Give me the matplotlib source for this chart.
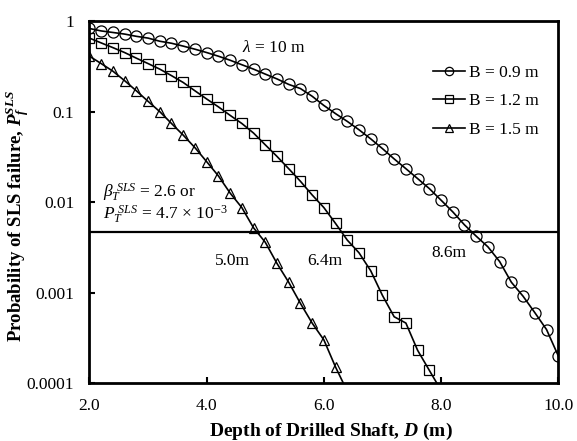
import matplotlib
matplotlib.use("Agg")
import matplotlib.pyplot as plt
from matplotlib.ticker import FixedLocator, FixedFormatter, NullLocator

plt.rcParams['font.family'] = ['Liberation Serif', 'DejaVu Serif']
plt.rcParams['mathtext.fontset'] = 'custom'
plt.rcParams['mathtext.rm'] = 'Liberation Serif'
plt.rcParams['mathtext.it'] = 'Liberation Serif:italic'
plt.rcParams['mathtext.bf'] = 'Liberation Serif:bold'
plt.rcParams['mathtext.bfit'] = 'Liberation Serif:italic:bold'

# ---- data ----
depth_09 = [2.0, 2.2, 2.4, 2.6, 2.8, 3.0, 3.2, 3.4, 3.6, 3.8, 4.0, 4.2, 4.4, 4.6, 4.8,
            5.0, 5.2, 5.4, 5.6, 5.8, 6.0, 6.2, 6.4, 6.6, 6.8, 7.0, 7.2, 7.4, 7.6, 7.8,
            8.0, 8.2, 8.4, 8.6, 8.8, 9.0, 9.2, 9.4, 9.6, 9.8, 10.0]
pf_09 = [0.83, 0.78, 0.75, 0.72, 0.68, 0.65, 0.60, 0.57, 0.53, 0.49, 0.45, 0.41, 0.37,
         0.33, 0.295, 0.26, 0.23, 0.20, 0.18, 0.148, 0.117, 0.095, 0.078, 0.063, 0.050,
         0.039, 0.030, 0.0234, 0.0182, 0.0141, 0.0105, 0.0078, 0.0056, 0.0042, 0.0032,
         0.0022, 0.0013, 0.00091, 0.0006, 0.00039, 0.0002]

depth_12 = [2.0, 2.2, 2.4, 2.6, 2.8, 3.0, 3.2, 3.4, 3.6, 3.8, 4.0, 4.2, 4.4, 4.6, 4.8,
            5.0, 5.2, 5.4, 5.6, 5.8, 6.0, 6.2, 6.4, 6.6, 6.8, 7.0, 7.2, 7.4, 7.6, 7.8, 8.0]
pf_12 = [0.65, 0.575, 0.51, 0.45, 0.39, 0.34, 0.295, 0.25, 0.21, 0.17, 0.138, 0.113,
         0.091, 0.074, 0.058, 0.043, 0.032, 0.0234, 0.017, 0.012, 0.0087, 0.0058, 0.0038,
         0.00275, 0.00174, 0.00093, 0.00054, 0.00046, 0.00023, 0.000138, 0.000083]

depth_15 = [2.0, 2.2, 2.4, 2.6, 2.8, 3.0, 3.2, 3.4, 3.6, 3.8, 4.0, 4.2, 4.4, 4.6, 4.8,
            5.0, 5.2, 5.4, 5.6, 5.8, 6.0, 6.2, 6.4]
pf_15 = [0.41, 0.34, 0.28, 0.22, 0.17, 0.13, 0.10, 0.074, 0.055, 0.040, 0.028, 0.0195,
         0.0126, 0.0087, 0.0052, 0.0036, 0.0021, 0.0013, 0.00076, 0.00046, 0.0003,
         0.00015, 0.000081]

series_labels = ['B = 0.9 m', 'B = 1.2 m', 'B = 1.5 m']
target_pf = 4.7e-3
x_ticks = [2.0, 4.0, 6.0, 8.0, 10.0]
x_tick_labels = ['2.0', '4.0', '6.0', '8.0', '10.0']
y_ticks = [1e-4, 1e-3, 1e-2, 1e-1, 1]
y_tick_labels = ['0.0001', '0.001', '0.01', '0.1', '1']
depth_labels = ['5.0m', '6.4m', '8.6m']

# ---- figure ----
fig = plt.figure(figsize=(5.77, 4.41), dpi=100)
ax = fig.add_axes([0.155, 0.1315, 0.8125, 0.8205])

ax.plot(depth_09, pf_09, color='black', lw=1.2, marker='o', ms=8,
        mfc='none', mec='black', mew=0.9, label=series_labels[0])
ax.plot(depth_12, pf_12, color='black', lw=1.2, marker='s', ms=7,
        mfc='none', mec='black', mew=0.9, label=series_labels[1])
ax.plot(depth_15, pf_15, color='black', lw=1.2, marker='^', ms=7.5,
        mfc='none', mec='black', mew=0.9, label=series_labels[2])

ax.axhline(target_pf, color='black', lw=1.6)

ax.set_yscale('log')
ax.set_xlim(2.0, 10.0)
ax.set_ylim(1e-4, 1)

ax.xaxis.set_major_locator(FixedLocator(x_ticks))
ax.xaxis.set_major_formatter(FixedFormatter(x_tick_labels))
ax.yaxis.set_major_locator(FixedLocator(y_ticks))
ax.yaxis.set_major_formatter(FixedFormatter(y_tick_labels))
ax.xaxis.set_minor_locator(NullLocator())
ax.yaxis.set_minor_locator(NullLocator())
ax.tick_params(direction='in', length=4, width=1.5, labelsize=12.5, colors='black')
ax.tick_params(axis='x', pad=11)
ax.tick_params(axis='y', pad=11)

for s in ax.spines.values():
    s.set_linewidth(2.0)
    s.set_color('black')

ax.set_xlabel(r'Depth of Drilled Shaft, $\mathbfit{D}$ (m)', fontsize=14,
              fontweight='bold')
ax.xaxis.set_label_coords(0.515, -0.105)
ax.set_ylabel(r'Probability of SLS failure, $\mathbfit{P}_{\mathbfit{f}}^{\mathbfit{SLS}}$',
              fontsize=13.5, fontweight='bold')
ax.yaxis.set_label_coords(-0.125, 0.46)

leg = ax.legend(loc='upper left', bbox_to_anchor=(0.733, 0.88), frameon=False,
                fontsize=12.5, handlelength=1.85, handletextpad=0.2, labelspacing=0.72,
                borderaxespad=0.0, borderpad=0.0, markerscale=0.75)

ax.text(0.325, 0.915, r'$\lambda$ = 10 m', transform=ax.transAxes, fontsize=12.5,
        ha='left', va='baseline')
ax.text(0.029, 0.512, r'$\beta_T^{\ SLS}$ = 2.6 or', transform=ax.transAxes,
        fontsize=12.5, ha='left', va='baseline')
ax.text(0.029, 0.452, r'$P_T^{\ SLS}$ = 4.7 $\times$ 10$^{-3}$', transform=ax.transAxes,
        fontsize=12.5, ha='left', va='baseline')
ax.text(0.306, 0.326, depth_labels[0], transform=ax.transAxes, fontsize=12.5,
        ha='center', va='baseline')
ax.text(0.503, 0.326, depth_labels[1], transform=ax.transAxes, fontsize=12.5,
        ha='center', va='baseline')
ax.text(0.767, 0.349, depth_labels[2], transform=ax.transAxes, fontsize=12.5,
        ha='center', va='baseline')

fig.savefig('out.png', dpi=100)
